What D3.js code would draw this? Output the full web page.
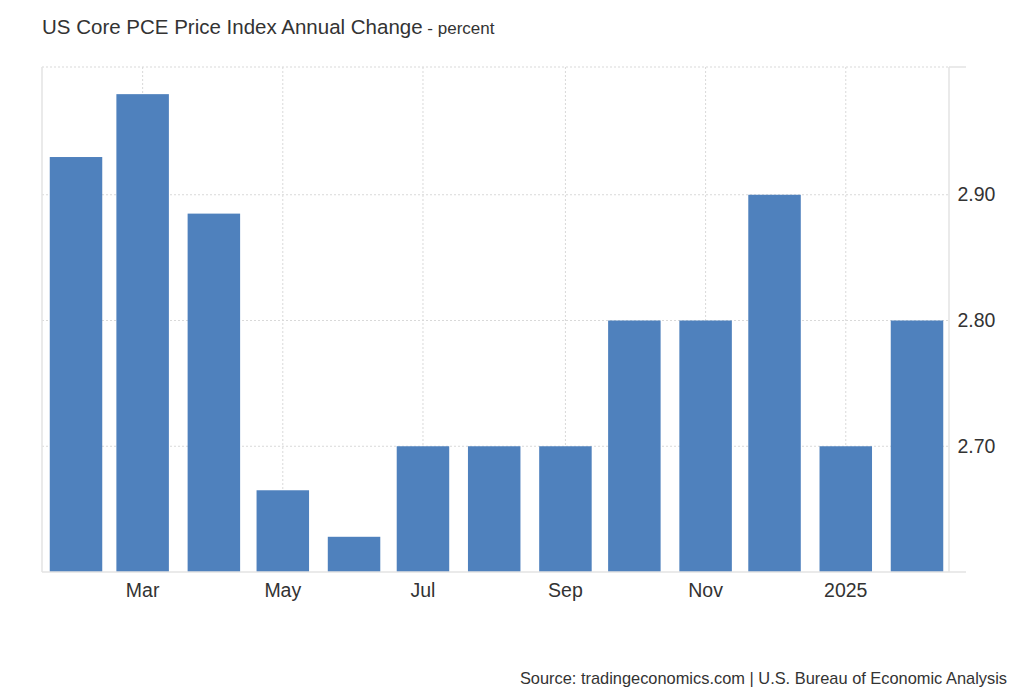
<!DOCTYPE html>
<html>
<head>
<meta charset="utf-8">
<script src="https://cdn.jsdelivr.net/npm/d3@7"></script>
<style>
  body { margin: 0; background: #fff; font-family: "Liberation Sans", Arial, sans-serif; }
  .grid line { stroke: #d9d9d9; stroke-dasharray: 2,2; }
  .tick-label { fill: #333; font-size: 19.5px; }
</style>
</head>
<body>
<div id="chart"></div>
<script>
// Monthly data, Feb 2024 - Feb 2025
const months = ['2024-02', '2024-03', '2024-04', '2024-05', '2024-06', '2024-07', '2024-08',
  '2024-09', '2024-10', '2024-11', '2024-12', '2025-01', '2025-02'];
const values = [2.93, 2.98, 2.885, 2.665, 2.628, 2.70, 2.70, 2.70, 2.80, 2.80, 2.90, 2.70, 2.80];
const xTickMonths = ['2024-03', '2024-05', '2024-07', '2024-09', '2024-11', '2025-01'];
const xTickLabels = ['Mar', 'May', 'Jul', 'Sep', 'Nov', '2025'];
const yTicks = [2.70, 2.80, 2.90];

const width = 1024, height = 700;
const margin = { top: 67, right: 75, bottom: 128, left: 42 };
const plotW = width - margin.left - margin.right;
const plotH = height - margin.top - margin.bottom;
const barW = 52.5;

const parse = d3.timeParse('%Y-%m');

const svg = d3.select('#chart').append('svg')
  .attr('width', width)
  .attr('height', height);

// Title
const title = svg.append('text')
  .attr('x', 42)
  .attr('y', 34)
  .attr('fill', '#333')
  .style('font-size', '20.5px');
title.append('tspan').text('US Core PCE Price Index Annual Change');
title.append('tspan').style('font-size', '17px').text(' - percent');

const g = svg.append('g')
  .attr('transform', `translate(${margin.left},${margin.top})`);

// time scale, bars centred on the first of each month
const x = d3.scaleTime()
  .domain([parse(months[0]), parse(months[months.length - 1])])
  .range([34, plotW - 32]);

const y = d3.scaleLinear()
  .domain([2.6, 3.0])
  .range([plotH, 2]);

// vertical gridlines at labeled months
g.append('g').attr('class', 'grid')
  .selectAll('line')
  .data(xTickMonths)
  .join('line')
  .attr('x1', d => x(parse(d)))
  .attr('x2', d => x(parse(d)))
  .attr('y1', 0)
  .attr('y2', plotH);

// horizontal gridlines (plus the top edge)
g.append('g').attr('class', 'grid')
  .selectAll('line')
  .data(yTicks.map(d => y(d)).concat([0]))
  .join('line')
  .attr('x1', 0)
  .attr('x2', plotW)
  .attr('y1', d => d)
  .attr('y2', d => d);

// bars
g.selectAll('.bar')
  .data(months)
  .join('rect')
  .attr('class', 'bar')
  .attr('x', d => x(parse(d)) - barW / 2)
  .attr('width', barW)
  .attr('y', (d, i) => y(values[i]))
  .attr('height', (d, i) => plotH - y(values[i]))
  .attr('fill', '#4f81bd');

// frame lines
const frame = '#e3e3e3';
g.append('line').attr('x1', 0).attr('x2', 0).attr('y1', 0).attr('y2', plotH)
  .attr('stroke', frame).attr('stroke-width', 1.5);
g.append('line').attr('x1', plotW).attr('x2', plotW).attr('y1', 0).attr('y2', plotH)
  .attr('stroke', frame).attr('stroke-width', 1.5);
g.append('line').attr('x1', 0).attr('x2', plotW + 17).attr('y1', plotH).attr('y2', plotH)
  .attr('stroke', frame).attr('stroke-width', 1.5);
g.append('line').attr('x1', plotW).attr('x2', plotW + 17).attr('y1', 0).attr('y2', 0)
  .attr('stroke', frame).attr('stroke-width', 1.5);

// y axis labels (right)
g.selectAll('.ylab')
  .data(yTicks)
  .join('text')
  .attr('class', 'tick-label')
  .attr('x', plotW + 8.5)
  .attr('y', d => y(d) + 6.5)
  .text(d => d3.format('.2f')(d));

// x axis labels
g.selectAll('.xlab')
  .data(xTickMonths)
  .join('text')
  .attr('class', 'tick-label')
  .attr('text-anchor', 'middle')
  .attr('x', d => x(parse(d)))
  .attr('y', plotH + 25)
  .text((d, i) => xTickLabels[i]);

// source
svg.append('text')
  .attr('x', 1007)
  .attr('y', 684)
  .attr('text-anchor', 'end')
  .attr('fill', '#333')
  .style('font-size', '16.4px')
  .text('Source: tradingeconomics.com | U.S. Bureau of Economic Analysis');
</script>
</body>
</html>
